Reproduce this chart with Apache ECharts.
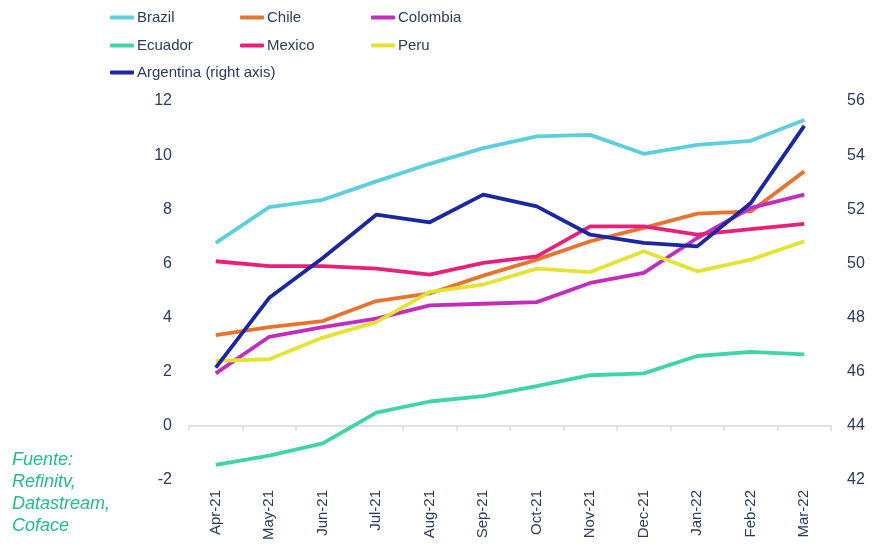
<!DOCTYPE html>
<html>
<head>
<meta charset="utf-8">
<script src="https://cdn.jsdelivr.net/npm/echarts@6/dist/echarts.min.js"></script>
<style>html,body{margin:0;padding:0;background:#fff;}#c{width:881px;height:547px;}</style>
</head>
<body>
<div id="c"></div>
<script>
const categories = ['Apr-21','May-21','Jun-21','Jul-21','Aug-21','Sep-21','Oct-21','Nov-21','Dec-21','Jan-22','Feb-22','Mar-22'];
const brazil    = [6.76, 8.08, 8.35, 9.03, 9.68, 10.26, 10.69, 10.75, 10.05, 10.38, 10.53, 11.30];
const chile     = [3.35, 3.65, 3.87, 4.61, 4.89, 5.55, 6.14, 6.82, 7.31, 7.84, 7.92, 9.40];
const colombia  = [1.94, 3.29, 3.65, 3.96, 4.45, 4.51, 4.57, 5.28, 5.65, 6.94, 8.05, 8.54];
const ecuador   = [-1.44, -1.10, -0.65, 0.49, 0.90, 1.10, 1.47, 1.87, 1.94, 2.58, 2.73, 2.64];
const mexico    = [6.08, 5.90, 5.90, 5.81, 5.59, 6.02, 6.26, 7.37, 7.37, 7.06, 7.27, 7.46];
const peru      = [2.40, 2.46, 3.26, 3.83, 4.95, 5.22, 5.81, 5.68, 6.45, 5.71, 6.14, 6.82];
const argentina = [46.15, 48.73, 50.20, 51.80, 51.52, 52.54, 52.11, 51.06, 50.76, 50.63, 52.23, 55.08];
const leftTicks = {min: -2, max: 12, interval: 2};
const rightTicks = {min: 42, max: 56, interval: 2};
const sourceLines = ['Fuente:', 'Refinitv,', 'Datastream,', 'Coface'];

const seriesDefs = [
  {name: 'Brazil', data: brazil, color: '#5ccfdf', y: 0},
  {name: 'Chile', data: chile, color: '#e8732f', y: 0},
  {name: 'Colombia', data: colombia, color: '#c42bbf', y: 0},
  {name: 'Ecuador', data: ecuador, color: '#3fd5a9', y: 0},
  {name: 'Mexico', data: mexico, color: '#e9207a', y: 0},
  {name: 'Peru', data: peru, color: '#e3e334', y: 0},
  {name: 'Argentina (right axis)', data: argentina, color: '#1a27a3', y: 1}
];

const legendPos = [[110,10],[240,10],[371,10],[110,38],[240,38],[371,38],[110,65]];
const textColor = '#2a3a5c';
const font = 'Liberation Sans, Arial, sans-serif';

const chart = echarts.init(document.getElementById('c'), null, {renderer: 'canvas'});
chart.setOption({
  animation: false,
  backgroundColor: '#ffffff',
  legend: seriesDefs.map((s, i) => ({
    data: [s.name],
    left: legendPos[i][0], top: legendPos[i][1],
    padding: 0,
    icon: 'roundRect', itemWidth: 24, itemHeight: 4,
    textStyle: {color: textColor, fontSize: 15, fontFamily: font, padding: [0,0,0,-2]}
  })),
  grid: {left: 189, right: 50, top: 101, bottom: 67, containLabel: false},
  xAxis: [
    {
      type: 'category', data: categories, boundaryGap: true, position: 'bottom',
      axisLine: {show: false}, axisTick: {show: false},
      axisLabel: {rotate: 90, margin: 10, color: textColor, fontSize: 15, fontFamily: font, interval: 0}
    },
    {
      type: 'category', data: categories, boundaryGap: true, position: 'bottom',
      axisLine: {show: true, onZero: true, onZeroAxisIndex: 0, lineStyle: {color: '#d9d9d9', width: 1.5}},
      axisTick: {show: true, inside: false, length: 5, interval: 0, lineStyle: {color: '#d9d9d9', width: 1.5}},
      axisLabel: {show: false}
    }
  ],
  yAxis: [
    {
      type: 'value', min: leftTicks.min, max: leftTicks.max, interval: leftTicks.interval,
      axisLine: {show: false}, axisTick: {show: false}, splitLine: {show: false},
      axisLabel: {margin: 17, color: textColor, fontSize: 16, fontFamily: font}
    },
    {
      type: 'value', min: rightTicks.min, max: rightTicks.max, interval: rightTicks.interval,
      position: 'right',
      axisLine: {show: false}, axisTick: {show: false}, splitLine: {show: false},
      axisLabel: {margin: 16, color: textColor, fontSize: 16, fontFamily: font}
    }
  ],
  series: seriesDefs.map(s => ({
    name: s.name, type: 'line', data: s.data, yAxisIndex: s.y, xAxisIndex: 0,
    showSymbol: false, symbol: 'none', smooth: false,
    lineStyle: {color: s.color, width: 3.8, join: 'round'},
    itemStyle: {color: s.color},
    z: s.y === 1 ? 3 : 2
  })),
  graphic: sourceLines.map((t, i) => ({
    type: 'text', left: 12, top: 451 + i * 22,
    style: {text: t, fill: '#1fbd8e', font: 'italic 18px Liberation Sans, Arial, sans-serif'}
  }))
});
</script>
</body>
</html>
